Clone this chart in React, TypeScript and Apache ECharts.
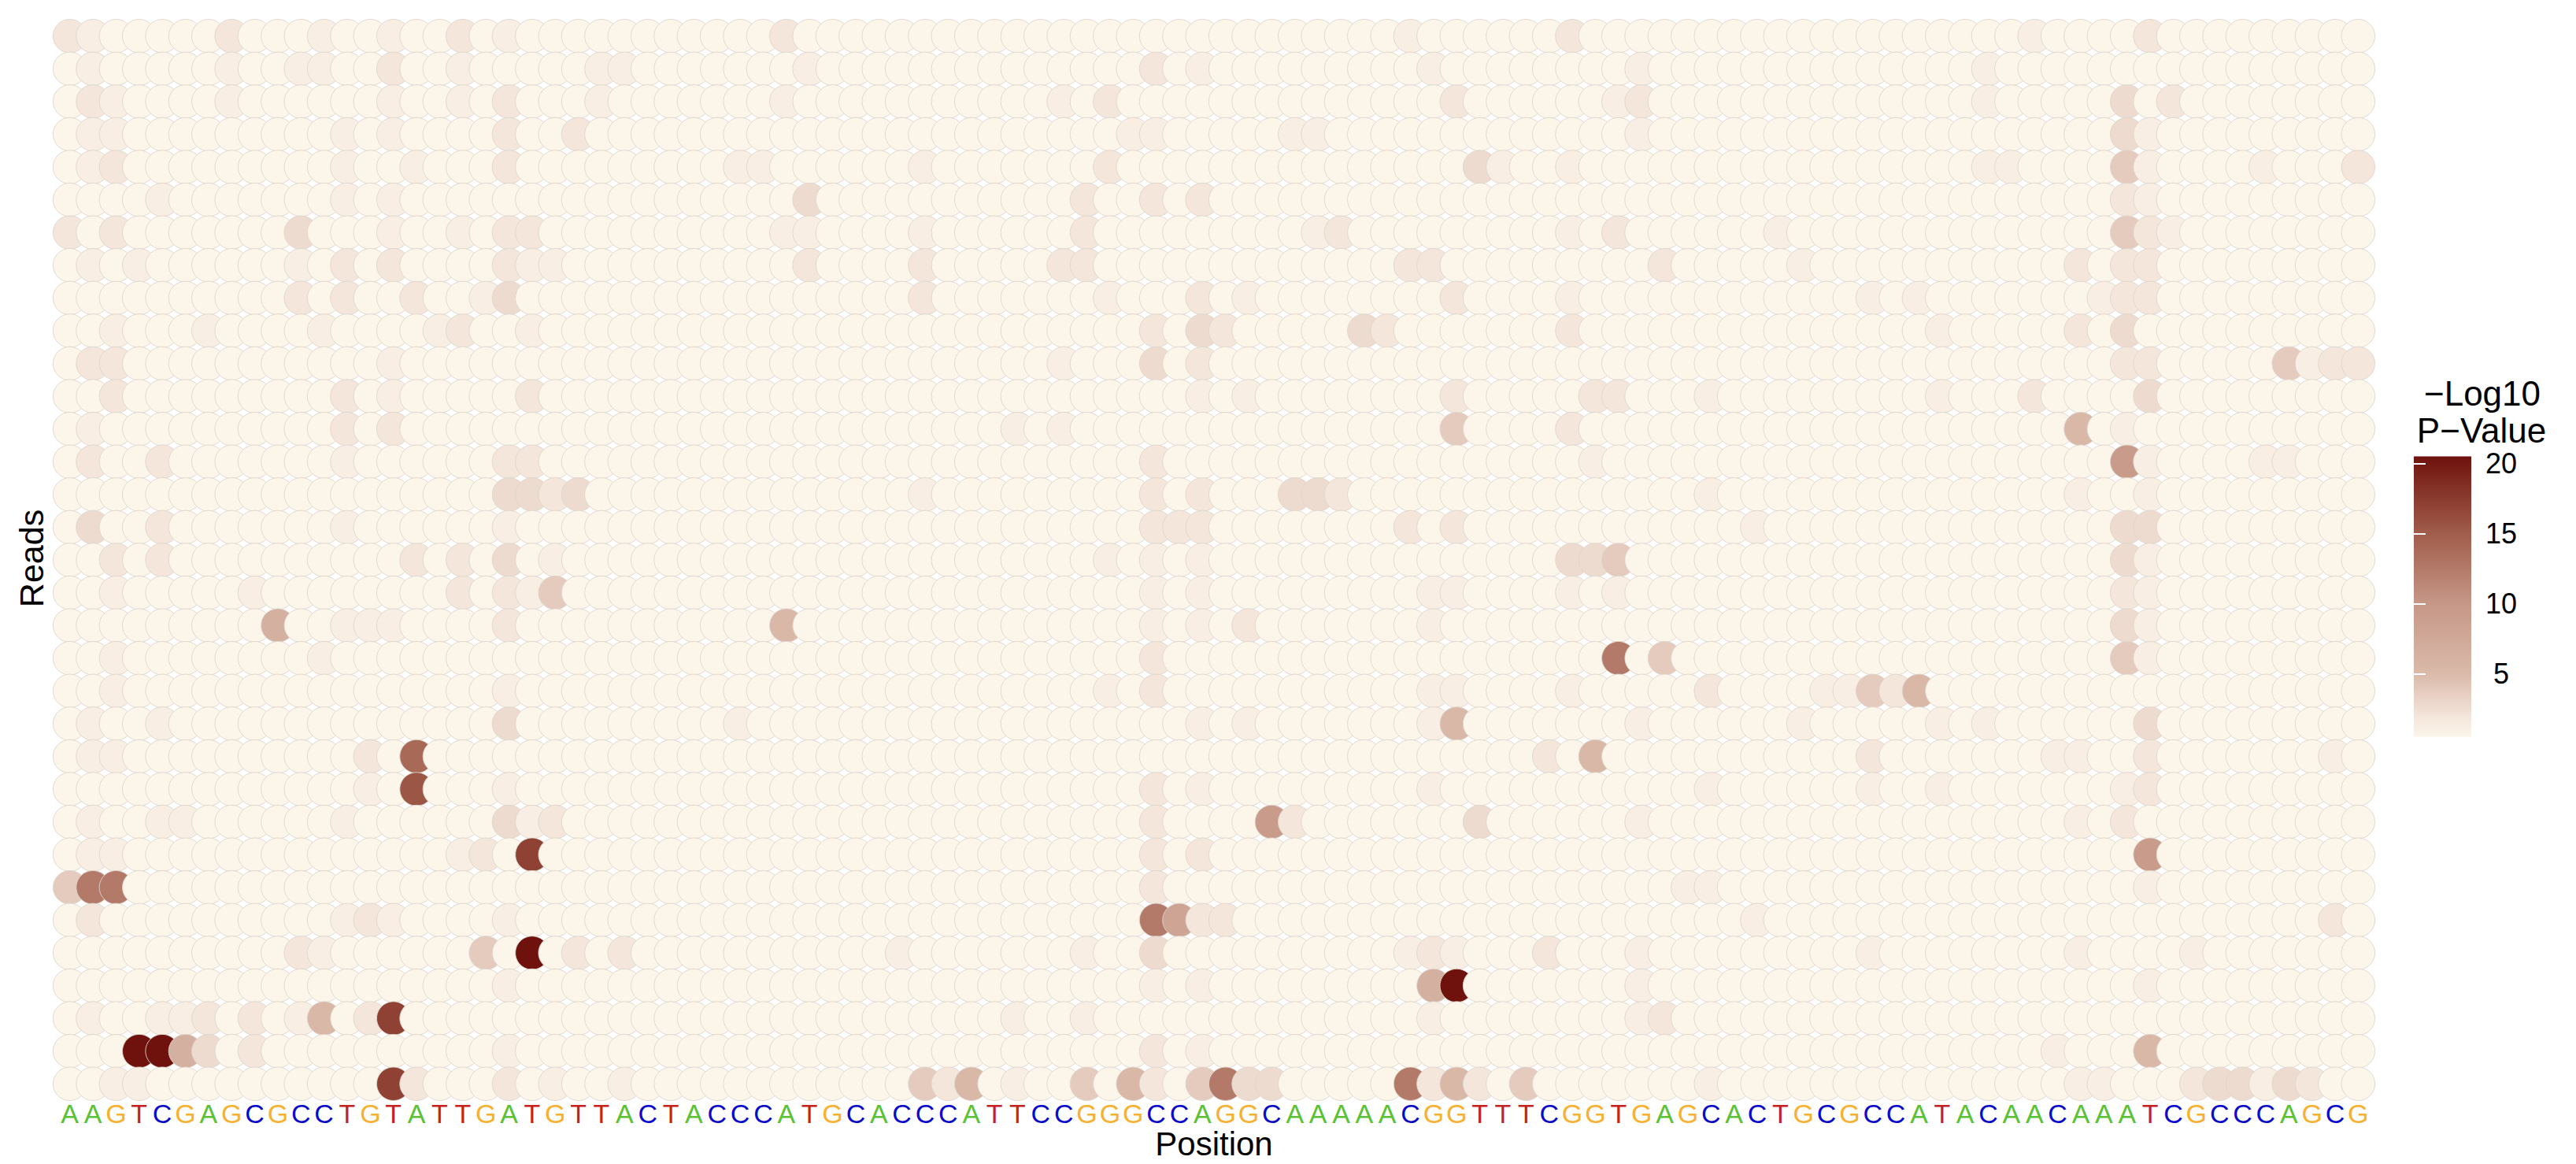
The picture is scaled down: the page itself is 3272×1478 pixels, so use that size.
import React, { useEffect, useRef } from "react";
import * as echarts from "echarts";

// Sequence shown under the x axis (one base per position)
const sequence =
  "AAGTCGAGCG" + "CCTGTATTGA" + "TGTTACTACC" + "CATGCACCCA" + "TTCCGGGCCA" +
  "GGCAAAAACG" + "GTTTCGGTGA" + "GCACTGCGCC" + "ATACAACAAA" + "TCGCCCAGCG";
const bases: string[] = sequence.split("");
const positions: string[] = bases.map((_, i) => String(i + 1));

// Estimated -log10 p-value for each code letter
const levelValues: Record<string, number> = {
  "0": 0.5, "1": 1.2, "2": 1.9, "3": 2.7, "4": 3.8, "5": 5.2, "6": 6.5, "7": 8,
  "8": 9.5, "9": 11, a: 12.5, b: 14, c: 15.5, d: 17, e: 19, f: 20.5,
};

// One string per read (top to bottom), one code per position (groups of 10)
const readRows: string[] = [
  "2100000200 0100100201 0000000000 0200000000 0000000000 0000000010 0000020000 0000000000 0000010000 2000000000",
  "0100000100 1100200100 0001100000 0010000000 0000000201 0000000001 0000000010 0000000000 0001000000 0000000000",
  "0210000100 0000100102 0001000000 0100000000 0001020000 0000000000 2000000120 0000000000 0001000003 0200000000",
  "0110000000 0010100002 0020000000 0000000000 0000001100 0001100000 0000000010 0000000000 0000000003 1000000000",
  "0120000000 0010010002 0000000001 1000000100 0000020000 0000000000 0310010000 0000000000 0001100004 1000010002",
  "0000100000 0010100000 0000000000 0030000000 0000200202 0000000000 0000000000 0000000000 0000000002 1000000000",
  "2020000000 3000100102 2000000000 0110000100 0000200000 0000120000 0000010200 0000100000 0000000004 2100000000",
  "0101000000 1020200002 1100000000 0020000200 0002200000 0000000022 0000000002 0000010000 0000000202 2000000000",
  "0000000000 2020020013 0000000000 0000000200 0000010002 0100000000 2000010000 0000000010 1000000012 2000000000",
  "0010001000 0100001200 1000000000 0000000000 0000000203 2000003200 0000020000 0000000000 0100000203 0000000000",
  "0220000000 0000100000 0000000000 0000000000 0001000302 0000000000 0000000000 0000000000 0000000002 2000004122",
  "0020000000 0020100000 2000000000 0000000000 0000000001 0100000000 2000002200 0100000000 0100020000 3000000000",
  "0100000000 0020200000 0000000000 0000000000 0101000000 0000000000 4000020000 0000000000 0000000501 0000000000",
  "0200200000 0010000002 2000000000 0000000000 0000000200 0000000000 0000001000 0000000000 0000000008 1000011000",
  "0000000000 0000000003 3230000000 0000000100 0000000202 0003320000 0000000000 0100000000 0000000100 1000000000",
  "0300200000 0010000001 0000000000 0000000000 0000000222 0000000020 2000000000 0001000000 0000000003 3000000000",
  "0020200000 0000020203 0100000000 0000000000 0000010101 0000000000 0000033400 0000000000 0000000003 1000000000",
  "0010000010 0000000202 1400000000 0000000000 0000000101 0000000001 1000010100 0000000000 0000000002 1000000000",
  "0000000006 0011100002 0000000000 0500000000 0000000101 0200000001 0000000000 0000000000 0000000003 1000000000",
  "0010000000 0100000000 0000000000 0000000000 0000000200 0000000000 0000000a04 0000000000 0000000004 1000000000",
  "0010000000 0000000001 0000000000 0000000000 0000010200 0000000001 1000010000 0200001142 5000000000 0000000000",
  "0100100000 0000000003 0000000001 0000000000 0000000001 0100000001 5000000010 0000010000 0101000000 3000000000",
  "0110000000 00020b0000 0000000000 0000000000 0000000000 0000000000 0000205000 0000000020 0000001100 2000000010",
  "0000000000 00010c0001 0000000000 0000000000 0000000201 0000000001 0000000000 0100000010 0100000001 2000000000",
  "0100110000 0010000003 1200000000 0000000000 0000000200 0082000000 0300000010 0000000000 0000000102 0000000000",
  "0110000000 0000000120 d000000000 0000000000 0000000202 0000000000 0000000000 0000000000 0000000000 8000000000",
  "4aa0000000 0000000000 0000000000 0000000000 0000000200 0000000000 0000000000 1100000000 0000000000 1000000000",
  "0200000000 0012100001 0000000000 0000000000 0000000a72 2000000000 0000000000 0001000000 0000000000 0000000020",
  "0000000000 2100000040 f020200000 0000001000 0000100300 0000000012 1000200010 0000000010 0000000100 0010000000",
  "0000000000 0000000001 0000000000 0000000000 0000000101 0000000006 f000000010 0000000000 0000000000 1000000000",
  "0100112020 1502d00000 0000000000 0000000000 0100100000 0000000001 0000000012 0000000000 0000000000 0000000000",
  "000ff63020 0000000001 0000000000 0000000000 0000000201 0000000000 0000000000 0000000000 0000001000 5000000000",
  "0011000000 0000d20002 0100100000 0000000425 0100405204 a3300000a2 5204000000 0100000000 0000000110 0023313200",
];
const reads: string[] = readRows.map((_, i) => String(i + 1));

// Colour scale: -log10 p-value -> colour
const colorStops: [number, string][] = [
  [0.5, "#FCF5EA"],
  [1.2, "#F8EEE3"],
  [2.0, "#F3E5DA"],
  [3.0, "#EBD6CA"],
  [5.0, "#DABAAA"],
  [10, "#C69787"],
  [15, "#A15D4B"],
  [20.5, "#6F120D"],
];
const scaleMin = 0.5;
const scaleMax = 20.5;
const legendTicks: number[] = [5, 10, 15, 20];

const baseColors: Record<string, string> = {
  A: "#5BC236",
  C: "#0A0ACC",
  G: "#F7B030",
  T: "#C5221F",
};

const FONT = "'Liberation Sans', Arial, Helvetica, sans-serif";

function hexToRgb(h: string): number[] {
  const n = parseInt(h.slice(1), 16);
  return [(n >> 16) & 255, (n >> 8) & 255, n & 255];
}
function colorAt(v: number): string {
  for (let i = 0; i < colorStops.length - 1; i++) {
    const [v0, c0] = colorStops[i];
    const [v1, c1] = colorStops[i + 1];
    if (v <= v1 || i === colorStops.length - 2) {
      const t = Math.max(0, Math.min(1, (v - v0) / (v1 - v0)));
      const a = hexToRgb(c0);
      const b = hexToRgb(c1);
      const r = a.map((x, k) => Math.round(x + (b[k] - x) * t));
      return `rgb(${r[0]},${r[1]},${r[2]})`;
    }
  }
  return colorStops[colorStops.length - 1][1];
}

const App = () => {
  const ref = useRef<HTMLDivElement>(null);

  useEffect(() => {
    if (!ref.current) return;
    const chart = echarts.init(ref.current, null, { renderer: "svg" });

    const data: number[][] = [];
    readRows.forEach((row, r) => {
      const codes = row.replace(/ /g, "").split("");
      codes.forEach((ch, c) => {
        data.push([c, r, levelValues[ch]]);
      });
    });

    const nColors = 81;
    const mapColors: string[] = [];
    for (let i = 0; i < nColors; i++) {
      mapColors.push(colorAt(scaleMin + ((scaleMax - scaleMin) * i) / (nColors - 1)));
    }

    const gradStops = colorStops
      .map(([v, c]) => ({ offset: (scaleMax - v) / (scaleMax - scaleMin), color: c }))
      .sort((a, b) => a.offset - b.offset);

    const rich: Record<string, any> = {};
    Object.keys(baseColors).forEach((b) => {
      rich[b] = { color: baseColors[b], fontSize: 34, lineHeight: 32, fontFamily: FONT };
    });

    const legendLeft = 3066;
    const legendWidth = 73;
    const legendTop = 579.6;
    const legendHeight = 356;

    const option: any = {
      animation: false,
      backgroundColor: "#ffffff",
      grid: [
        { left: 74, top: 25, width: 2936, height: 1372, containLabel: false, outerBoundsMode: "none" },
        {
          left: legendLeft,
          top: legendTop,
          width: legendWidth,
          height: legendHeight,
          containLabel: false,
          outerBoundsMode: "none",
        },
      ],
      xAxis: [
        {
          type: "category",
          gridIndex: 0,
          data: positions,
          boundaryGap: true,
          axisLine: { show: false },
          axisTick: { show: false },
          splitLine: { show: false },
          axisLabel: {
            interval: 0,
            hideOverlap: false,
            margin: 1,
            formatter: (_v: string, i: number) => `{${bases[i]}|${bases[i]}}`,
            rich,
          },
        },
        { type: "value", gridIndex: 1, show: false, min: 0, max: 1 },
      ],
      yAxis: [
        { type: "category", gridIndex: 0, data: reads, inverse: true, show: false },
        {
          type: "value",
          gridIndex: 1,
          min: scaleMin,
          max: scaleMax,
          position: "right",
          z: 10,
          axisLine: { show: false },
          splitLine: { show: false },
          axisTick: {
            show: true,
            inside: true,
            length: 15,
            lineStyle: { color: "#ffffff", width: 2 },
            customValues: legendTicks,
          },
          axisLabel: {
            show: true,
            customValues: legendTicks,
            margin: 38,
            align: "center",
            fontSize: 36,
            color: "#000000",
            fontFamily: FONT,
          },
        },
        {
          type: "value",
          gridIndex: 1,
          min: scaleMin,
          max: scaleMax,
          position: "left",
          z: 10,
          axisLine: { show: false },
          splitLine: { show: false },
          axisTick: {
            show: true,
            inside: true,
            length: 15,
            lineStyle: { color: "#ffffff", width: 2 },
            customValues: legendTicks,
          },
          axisLabel: { show: false },
        },
      ],
      visualMap: {
        type: "continuous",
        show: false,
        seriesIndex: 0,
        dimension: 2,
        min: scaleMin,
        max: scaleMax,
        inRange: { color: mapColors },
      },
      series: [
        {
          type: "scatter",
          xAxisIndex: 0,
          yAxisIndex: 0,
          data,
          symbol: "circle",
          symbolSize: 42.5,
          progressive: 0,
          large: false,
          silent: true,
          itemStyle: { borderColor: "#DDD5CC", borderWidth: 0.9, opacity: 1 },
          emphasis: { disabled: true },
        },
      ],
      graphic: [
        {
          type: "rect",
          z: 0,
          shape: { x: legendLeft, y: legendTop, width: legendWidth, height: legendHeight },
          style: {
            fill: { type: "linear", x: 0, y: 0, x2: 0, y2: 1, colorStops: gradStops },
          },
        },
        {
          type: "text",
          x: 40,
          y: 709,
          rotation: Math.PI / 2,
          style: { text: "Reads", fontSize: 43, fontFamily: FONT, fill: "#000", align: "center", verticalAlign: "middle" },
        },
        {
          type: "text",
          x: 1542,
          y: 1452,
          style: { text: "Position", fontSize: 42, fontFamily: FONT, fill: "#000", align: "center", verticalAlign: "middle" },
        },
        {
          type: "text",
          x: 3153,
          y: 499,
          style: { text: "\u2212Log10", fontSize: 44, fontFamily: FONT, fill: "#000", align: "center", verticalAlign: "middle" },
        },
        {
          type: "text",
          x: 3152,
          y: 546,
          style: { text: "P\u2212Value", fontSize: 44, fontFamily: FONT, fill: "#000", align: "center", verticalAlign: "middle" },
        },
      ],
    };

    chart.setOption(option);
    return () => chart.dispose();
  }, []);

  return (
    <div
      ref={ref}
      style={{ position: "absolute", left: 0, top: 0, width: 3272, height: 1478, background: "#ffffff" }}
    />
  );
};

export default App;
